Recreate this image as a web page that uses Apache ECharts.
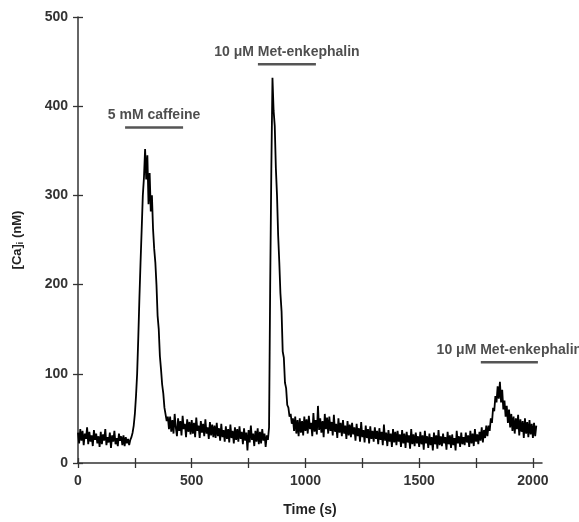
<!DOCTYPE html>
<html>
<head>
<meta charset="utf-8">
<script src="https://cdn.jsdelivr.net/npm/echarts@6/dist/echarts.min.js"></script>
<style>
html,body{margin:0;padding:0;background:#fff;}
#chart{width:579px;height:522px;}
</style>
</head>
<body>
<div id="chart"></div>
<script>
// Sampling of the [Ca]i trace (seconds)
const sampleStartS = 0;
const sampleStepS = 5;

// [Ca]i values (nM), one row per 100 s
const caTrace = [
  34, 22, 38, 25, 36, 20, 33, 27, 40, 21, 35, 24, 31, 19, 37, 26, 33, 22, 30, 18,
  35, 21, 32, 25, 38, 20, 29, 23, 34, 17, 31, 24, 36, 21, 28, 19, 33, 25, 30, 20,
  31, 19, 29, 22, 27, 20, 26, 29, 34, 42, 55, 75, 100, 140, 185, 225, 262, 300, 320, 352,
  318, 345, 290, 325, 282, 300, 262, 240, 225, 200, 165, 150, 120, 105, 88, 78, 62, 60, 47, 52,
  38, 52, 35, 48, 33, 55, 40, 30, 50, 36, 47, 31, 53, 38, 44, 29, 49, 35, 46, 32,
  48, 33, 45, 29, 51, 36, 42, 28, 47, 34, 44, 30, 49, 33, 40, 27, 46, 31, 43, 29,
  42, 28, 45, 30, 39, 25, 44, 29, 37, 24, 41, 27, 38, 23, 43, 28, 36, 22, 40, 26,
  38, 24, 41, 27, 35, 21, 39, 25, 34, 14, 37, 23, 42, 26, 33, 19, 36, 24, 39, 21,
  35, 22, 38, 25, 33, 18, 31, 26, 40, 200, 330, 432, 395, 378, 330, 300, 255, 225, 190, 170,
  125, 118, 90, 84, 65, 62, 52, 55, 44, 50, 36, 52, 33, 48, 30, 50, 34, 47, 31, 52,
  36, 49, 33, 53, 38, 45, 30, 56, 35, 48, 32, 64, 37, 50, 34, 47, 29, 55, 38, 51,
  33, 52, 36, 46, 31, 54, 35, 44, 28, 50, 34, 45, 30, 48, 33, 42, 27, 47, 31, 43,
  29, 45, 32, 40, 25, 44, 30, 39, 24, 46, 29, 37, 23, 42, 28, 38, 22, 41, 27, 36,
  24, 40, 27, 36, 21, 39, 26, 35, 20, 43, 25, 34, 19, 37, 24, 33, 18, 38, 23, 35,
  20, 36, 24, 32, 18, 37, 22, 33, 17, 35, 23, 31, 16, 38, 21, 32, 19, 34, 22, 30,
  18, 35, 21, 31, 15, 36, 22, 30, 17, 33, 20, 29, 14, 34, 21, 31, 16, 37, 20, 30,
  19, 33, 22, 29, 15, 35, 21, 31, 17, 32, 20, 28, 14, 36, 22, 30, 18, 34, 21, 29,
  20, 34, 23, 31, 18, 36, 22, 33, 19, 38, 24, 32, 21, 35, 25, 40, 23, 37, 28, 42,
  30, 42, 36, 50, 45, 62, 58, 75, 68, 86, 72, 91, 68, 82, 60, 70, 52, 64, 45, 60,
  40, 55, 36, 52, 33, 50, 38, 54, 31, 49, 35, 47, 28, 50, 33, 46, 29, 48, 32, 44,
  28, 45, 30, 42
];

// Drug applications (bars + labels)
const treatmentNames = ['5 mM caffeine', '10 \u03bcM Met-enkephalin', '10 \u03bcM Met-enkephalin'];
const treatmentStart = [207, 791, 1771];
const treatmentEnd = [462, 1046, 2022];
const treatmentLevel = [376, 447, 113];

// Axis ticks
const xTickValues = [0, 250, 500, 750, 1000, 1250, 1500, 1750, 2000];
const xLabelValues = [0, 500, 1000, 1500, 2000];
const yTickValues = [0, 100, 200, 300, 400, 500];

const tracePoints = caTrace.map((v, i) => [sampleStartS + i * sampleStepS, v]);

const FONT = '"Liberation Sans", Arial, Helvetica, sans-serif';
const AXIS_COLOR = '#333';
const plain = v => String(v);

const series = [{
  type: 'line',
  data: tracePoints,
  symbol: 'none',
  lineStyle: { color: '#000', width: 1.8 },
  xAxisIndex: 0, yAxisIndex: 0,
  z: 3
}];

treatmentNames.forEach((name, k) => {
  series.push({
    type: 'line',
    data: [[treatmentStart[k], treatmentLevel[k]], [treatmentEnd[k], treatmentLevel[k]]],
    symbol: 'none',
    lineStyle: { color: '#555', width: 2.5 },
    xAxisIndex: 0, yAxisIndex: 0,
    z: 4
  });
  series.push({
    type: 'scatter',
    data: [[(treatmentStart[k] + treatmentEnd[k]) / 2, treatmentLevel[k]]],
    symbolSize: 1,
    itemStyle: { color: 'transparent' },
    label: {
      show: true,
      position: 'top',
      distance: 5,
      formatter: name,
      color: '#222',
      fontFamily: FONT,
      fontWeight: 'bold',
      fontSize: 14
    },
    xAxisIndex: 0, yAxisIndex: 0,
    z: 5
  });
});

const xBase = {
  type: 'value',
  min: 0,
  max: 2040,
  position: 'bottom',
  splitLine: { show: false }
};
const yBase = {
  type: 'value',
  min: 0,
  max: 500,
  interval: 100,
  position: 'left',
  splitLine: { show: false }
};

const option = {
  animation: false,
  backgroundColor: '#fff',
  grid: { left: 78, right: 37, top: 17, bottom: 55, containLabel: false },
  xAxis: [
    Object.assign({}, xBase, {
      name: 'Time (s)',
      nameLocation: 'middle',
      nameGap: 40,
      nameTextStyle: { color: '#222', fontFamily: FONT, fontWeight: 'bold', fontSize: 14, verticalAlign: 'top' },
      axisLine: { show: true, lineStyle: { color: AXIS_COLOR, width: 1.5 } },
      axisTick: { show: true, inside: false, length: 5, customValues: xTickValues, lineStyle: { color: AXIS_COLOR, width: 1.3 } },
      axisLabel: { show: true, customValues: xLabelValues, formatter: plain, margin: 11, color: '#333', fontFamily: FONT, fontWeight: 'bold', fontSize: 14 }
    }),
    Object.assign({}, xBase, {
      offset: -5,
      axisLine: { show: false },
      axisTick: { show: true, inside: false, length: 5, customValues: xTickValues, lineStyle: { color: AXIS_COLOR, width: 1.3 } },
      axisLabel: { show: false }
    })
  ],
  yAxis: [
    Object.assign({}, yBase, {
      name: '[Ca]{sub|i} (nM)',
      nameLocation: 'middle',
      nameGap: 53,
      nameRotate: 90,
      nameTextStyle: {
        color: '#222', fontFamily: FONT, fontWeight: 'bold', fontSize: 13,
        rich: { sub: { fontSize: 9, fontWeight: 'bold', fontFamily: FONT, color: '#222', verticalAlign: 'bottom', padding: [6, 0, 0, 0] } }
      },
      axisLine: { show: true, lineStyle: { color: AXIS_COLOR, width: 1.5 } },
      axisTick: { show: true, inside: false, length: 5, customValues: yTickValues, lineStyle: { color: AXIS_COLOR, width: 1.3 } },
      axisLabel: { show: true, customValues: yTickValues, formatter: plain, margin: 10, color: '#333', fontFamily: FONT, fontWeight: 'bold', fontSize: 14 }
    }),
    Object.assign({}, yBase, {
      offset: -5,
      axisLine: { show: false },
      axisTick: { show: true, inside: false, length: 5, customValues: yTickValues, lineStyle: { color: AXIS_COLOR, width: 1.3 } },
      axisLabel: { show: false }
    })
  ],
  series: series
};

const chart = echarts.init(document.getElementById('chart'), null, { renderer: 'canvas' });
chart.setOption(option);
</script>
</body>
</html>
